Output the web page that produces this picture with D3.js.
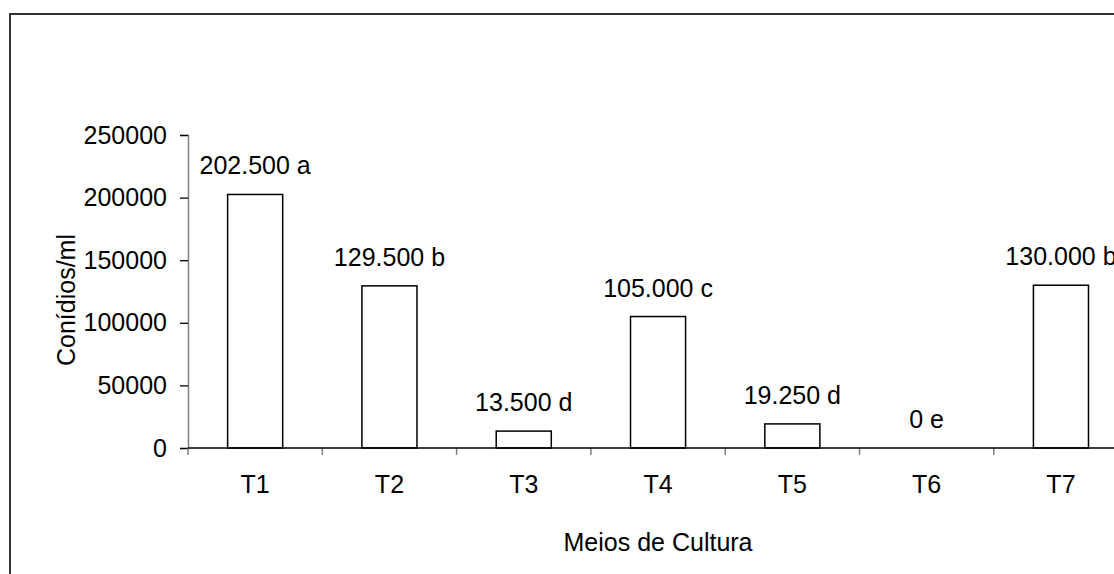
<!DOCTYPE html>
<html>
<head>
<meta charset="utf-8">
<script src="https://cdn.jsdelivr.net/npm/d3@7"></script>
<style>
  body { margin: 0; background: #fff; }
  svg { display: block; font-family: Arial, "Liberation Sans", sans-serif; }
  .axis text { font-size: 25px; fill: #000; }
</style>
</head>
<body>
<script>
var categories = ["T1", "T2", "T3", "T4", "T5", "T6", "T7"];
var values = [202500, 129500, 13500, 105000, 19250, 0, 130000];
var letters = ["a", "b", "d", "c", "d", "e", "b"];
var yTicks = [0, 50000, 100000, 150000, 200000, 250000];

var W = 1114, H = 574;
var svg = d3.select("body").append("svg")
  .attr("width", W)
  .attr("height", H);

// outer frame (runs off the right and bottom edge like the original)
svg.append("rect")
  .attr("x", 10).attr("y", 14)
  .attr("width", 1300).attr("height", 700)
  .attr("fill", "none")
  .attr("stroke", "#333")
  .attr("stroke-width", 2);

var plotLeft = 188, plotTop = 135, plotBottom = 448, bandW = 134.3;

var x = d3.scaleBand()
  .domain(categories)
  .range([plotLeft, plotLeft + bandW * categories.length])
  .padding(0);

var y = d3.scaleLinear()
  .domain([0, 250000])
  .range([plotBottom, plotTop]);

var data = categories.map(function(c, i){
  return {cat: c, val: values[i], lab: d3.format(",")(values[i]).replace(/,/g, ".") + " " + letters[i]};
});

// y axis: gray line, black ticks
var yAxis = svg.append("g")
  .attr("class", "axis")
  .attr("transform", "translate(" + plotLeft + ",0)")
  .call(d3.axisLeft(y).tickValues(yTicks).tickFormat(d3.format("d")).tickSize(8).tickPadding(13));
yAxis.select(".domain").attr("stroke", "#808080").attr("stroke-width", 1.5);
yAxis.selectAll(".tick line").attr("stroke", "#000").attr("stroke-width", 1.3);

// x axis ticks at band boundaries (gray)
var bounds = d3.range(categories.length + 1).map(function(i){ return plotLeft + i * bandW; });
svg.append("g").selectAll("line")
  .data(bounds)
  .enter().append("line")
  .attr("x1", function(d){ return d; })
  .attr("x2", function(d){ return d; })
  .attr("y1", plotBottom)
  .attr("y2", plotBottom + 7)
  .attr("stroke", "#808080")
  .attr("stroke-width", 1.5);

var xAxis = svg.append("g")
  .attr("class", "axis")
  .attr("transform", "translate(0," + plotBottom + ")")
  .call(d3.axisBottom(x).tickSize(0).tickPadding(27));
xAxis.select(".domain").remove();

// bars
svg.selectAll("rect.bar")
  .data(data.filter(function(d){ return d.val > 0; }))
  .enter().append("rect")
  .attr("class", "bar")
  .attr("x", function(d){ return x(d.cat) + x.bandwidth() * 0.295; })
  .attr("width", x.bandwidth() * 0.41)
  .attr("y", function(d){ return y(d.val); })
  .attr("height", function(d){ return plotBottom - y(d.val); })
  .attr("fill", "#fff")
  .attr("stroke", "#000")
  .attr("stroke-width", 1.5);

// x axis line (black, drawn over bars)
svg.append("line")
  .attr("x1", plotLeft).attr("x2", plotLeft + bandW * categories.length)
  .attr("y1", plotBottom).attr("y2", plotBottom)
  .attr("stroke", "#000").attr("stroke-width", 1.5);

// value labels
svg.selectAll("text.lab")
  .data(data)
  .enter().append("text")
  .attr("class", "lab")
  .attr("x", function(d){ return x(d.cat) + x.bandwidth() / 2; })
  .attr("y", function(d){ return y(d.val) - 20; })
  .attr("text-anchor", "middle")
  .style("font-size", "25px")
  .text(function(d){ return d.lab; });

// axis titles
svg.append("text")
  .attr("x", plotLeft + bandW * categories.length / 2)
  .attr("y", 551)
  .attr("text-anchor", "middle")
  .style("font-size", "25px")
  .text("Meios de Cultura");

svg.append("text")
  .attr("transform", "translate(75," + 300 + ") rotate(-90)")
  .attr("text-anchor", "middle")
  .style("font-size", "25px")
  .text("Conídios/ml");
</script>
</body>
</html>
